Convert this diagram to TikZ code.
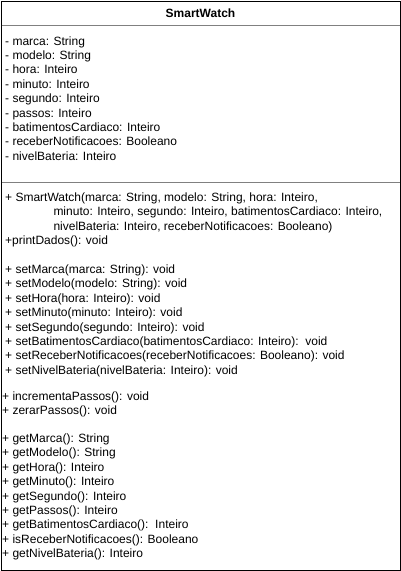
\documentclass[tikz,border=0pt]{standalone}
\usepackage{fontspec}
\setmainfont{Liberation Sans}
\begin{document}
\begin{tikzpicture}[x=1pt,y=-1pt,
  txt/.style={anchor=base west, inner sep=0pt, font=\fontsize{12}{14}\selectfont},
  sep/.style={draw=black!50, line width=1pt}]
\useasboundingbox (0,0) rectangle (401,571);
\node[draw=black, line width=1.5pt, minimum width=399.5pt, minimum height=569.5pt, anchor=north west, inner sep=0pt] (box) at (0.75,0.75) {};
\node[anchor=base, inner sep=0pt, font=\fontsize{12}{14}\selectfont\bfseries] (title) at (200.5,17) {SmartWatch};
\coordinate (s1l) at (1.5,25.5); \coordinate (s1r) at (399.5,25.5);
\coordinate (s2l) at (1.5,182.5); \coordinate (s2r) at (399.5,182.5);
\draw[sep] (s1l) -- (s1r);
\draw[sep] (s2l) -- (s2r);
% attributes
\node[txt] (a1) at (5,45) {- marca: String};
\node[txt] (a2) at (5,59.4) {- modelo: String};
\node[txt] (a3) at (5,73.8) {- hora: Inteiro};
\node[txt] (a4) at (5,88.2) {- minuto: Inteiro};
\node[txt] (a5) at (5,102.6) {- segundo: Inteiro};
\node[txt] (a6) at (5,117) {- passos: Inteiro};
\node[txt] (a7) at (5,131.4) {- batimentosCardiaco: Inteiro};
\node[txt] (a8) at (5,145.8) {- receberNotificacoes: Booleano};
\node[txt] (a9) at (5,160.2) {- nivelBateria: Inteiro};
% methods
\node[txt] (c1) at (5,201.5) {+ SmartWatch(marca: String, modelo: String, hora: Inteiro,};
\node[txt] (c2) at (53.3,215.9) {minuto: Inteiro, segundo: Inteiro, batimentosCardiaco: Inteiro,};
\node[txt] (c3) at (53.3,230.3) {nivelBateria: Inteiro, receberNotificacoes: Booleano)};
\node[txt] (c4) at (5,244.7) {+printDados(): void};
\node[txt] (s1) at (5,273.5) {+ setMarca(marca: String): void};
\node[txt] (s2) at (5,287.9) {+ setModelo(modelo: String): void};
\node[txt] (s3) at (5,302.3) {+ setHora(hora: Inteiro): void};
\node[txt] (s4) at (5,316.7) {+ setMinuto(minuto: Inteiro): void};
\node[txt] (s5) at (5,331.1) {+ setSegundo(segundo: Inteiro): void};
\node[txt] (s6) at (5,345.5) {+ setBatimentosCardiaco(batimentosCardiaco: Inteiro):\ \ void};
\node[txt] (s7) at (5,359.9) {+ setReceberNotificacoes(receberNotificacoes: Booleano): void};
\node[txt] (s8) at (5,374.3) {+ setNivelBateria(nivelBateria: Inteiro): void};
\node[txt] (p1) at (2,400) {+ incrementaPassos(): void};
\node[txt] (p2) at (2,414.4) {+ zerarPassos(): void};
\node[txt] (g1) at (2,442.4) {+ getMarca(): String};
\node[txt] (g2) at (2,456.8) {+ getModelo(): String};
\node[txt] (g3) at (2,471.2) {+ getHora(): Inteiro};
\node[txt] (g4) at (2,485.6) {+ getMinuto(): Inteiro};
\node[txt] (g5) at (2,500) {+ getSegundo(): Inteiro};
\node[txt] (g6) at (2,514.4) {+ getPassos(): Inteiro};
\node[txt] (g7) at (2,528.8) {+ getBatimentosCardiaco():\ \ Inteiro};
\node[txt] (g8) at (2,543.2) {+ isReceberNotificacoes(): Booleano};
\node[txt] (g9) at (2,557.6) {+ getNivelBateria(): Inteiro};
\end{tikzpicture}
\end{document}
